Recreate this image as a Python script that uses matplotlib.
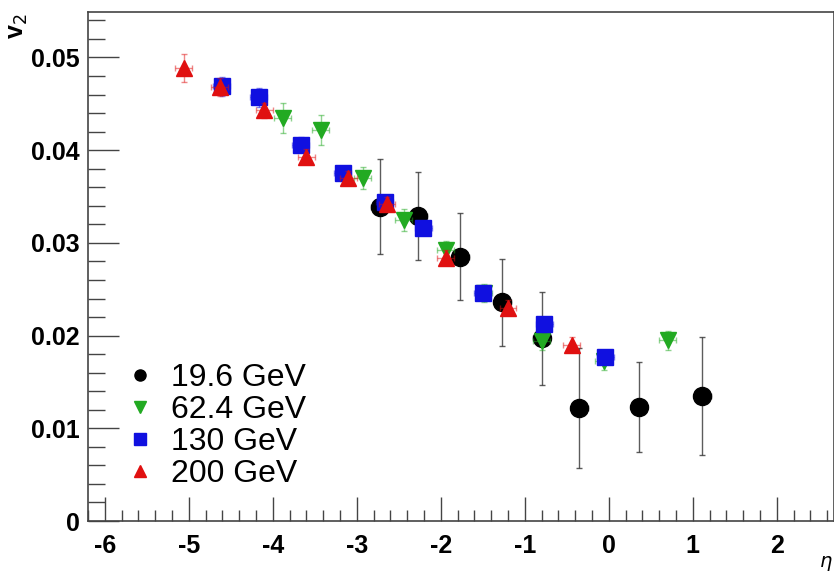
import numpy as np
import matplotlib.pyplot as plt
from matplotlib.ticker import MultipleLocator, FormatStrFormatter

# 19.6 GeV
eta_196 = [-2.73, -2.27, -1.77, -1.27, -0.80, -0.35, 0.36, 1.11]
v2_196 = [0.0339, 0.0329, 0.0285, 0.0236, 0.0197, 0.0122, 0.0123, 0.0135]
err_196 = [0.0051, 0.0047, 0.0047, 0.0047, 0.0050, 0.0065, 0.0049, 0.0064]

# 62.4 GeV
eta_624 = [-3.88, -3.43, -2.93, -2.44, -1.94, -1.49, -0.80, -0.06, 0.70]
v2_624 = [0.0435, 0.0422, 0.0370, 0.0325, 0.0292, 0.0246, 0.0194, 0.0173, 0.0195]
err_624 = [0.0016, 0.0016, 0.0012, 0.0012, 0.0010, 0.0010, 0.0010, 0.0010, 0.0010]

# 130 GeV
eta_130 = [-4.61, -4.17, -3.67, -3.17, -2.67, -2.21, -1.50, -0.77, -0.04]
v2_130 = [0.0469, 0.0457, 0.0406, 0.0375, 0.0344, 0.0316, 0.0246, 0.0212, 0.0177]
err_130 = [0.0010, 0.0010, 0.0008, 0.0008, 0.0008, 0.0008, 0.0008, 0.0008, 0.0008]

# 200 GeV
eta_200 = [-5.06, -4.63, -4.10, -3.60, -3.10, -2.64, -1.94, -1.20, -0.44]
v2_200 = [0.0489, 0.0468, 0.0443, 0.0393, 0.0370, 0.0342, 0.0284, 0.0230, 0.0190]
err_200 = [0.0015, 0.0010, 0.0008, 0.0008, 0.0008, 0.0008, 0.0008, 0.0008, 0.0008]

plt.rcParams['font.family'] = ['Liberation Sans', 'DejaVu Sans']
plt.rcParams['axes.unicode_minus'] = False

fig = plt.figure(figsize=(8.34, 5.75), dpi=100)
ax = fig.add_axes([0.1055, 0.0939, 0.8945, 0.8851])

series = [
    (eta_196, v2_196, err_196, 'o', 'black', '19.6 GeV', 13),
    (eta_624, v2_624, err_624, 'v', '#22aa22', '62.4 GeV', 11),
    (eta_130, v2_130, err_130, 's', '#1010e0', '130 GeV', 11),
    (eta_200, v2_200, err_200, '^', '#e01010', '200 GeV', 11),
]
handles = []
for eta, v2, err, mk, col, lab, ms in series:
    ecol = '#333333' if col == 'black' else col
    ax.errorbar(eta, v2, yerr=err, xerr=0.1, fmt='none', ecolor=ecol,
                elinewidth=1.0, capsize=2.5, alpha=0.8 if col == 'black' else 0.5)
    ax.plot(eta, v2, mk, color=col, ms=ms, mec=col)
    h, = ax.plot([], [], mk, color=col, ms=8, mec=col)
    handles.append((h, lab))

ax.legend([h for h, _ in handles], [l for _, l in handles], loc='lower left',
          bbox_to_anchor=(0.055, 0.063), frameon=False, fontsize=23,
          handlelength=0.7, handletextpad=0.6, labelspacing=0.06,
          borderaxespad=0, borderpad=0)

ax.set_xlim(-6.2, 2.68)
ax.set_ylim(0, 0.0549)
ax.xaxis.set_major_locator(MultipleLocator(1))
ax.xaxis.set_minor_locator(MultipleLocator(0.2))
ax.yaxis.set_major_locator(MultipleLocator(0.01))
ax.yaxis.set_minor_locator(MultipleLocator(0.002))
ax.yaxis.set_major_formatter(FormatStrFormatter('%g'))
ax.tick_params(which='both', direction='in', top=False, right=False,
               labelsize=18, width=1.0, color='#444444')
ax.tick_params(axis='x', which='major', length=17, pad=9)
ax.tick_params(axis='x', which='minor', length=8)
ax.tick_params(axis='y', which='major', length=22, pad=6)
ax.tick_params(axis='y', which='minor', length=12)
for lab in ax.get_xticklabels() + ax.get_yticklabels():
    lab.set_fontweight('bold')
for sp in ax.spines.values():
    sp.set_color('#444444')
    sp.set_linewidth(1.2)

fig.text(0.022, 0.955, r'v$_2$', rotation=90, fontsize=18, fontweight='bold',
         ha='center', va='center')
fig.text(0.998, 0.02, r'$\eta$', fontsize=14, ha='right', va='center')

fig.savefig('out.png', dpi=100)
